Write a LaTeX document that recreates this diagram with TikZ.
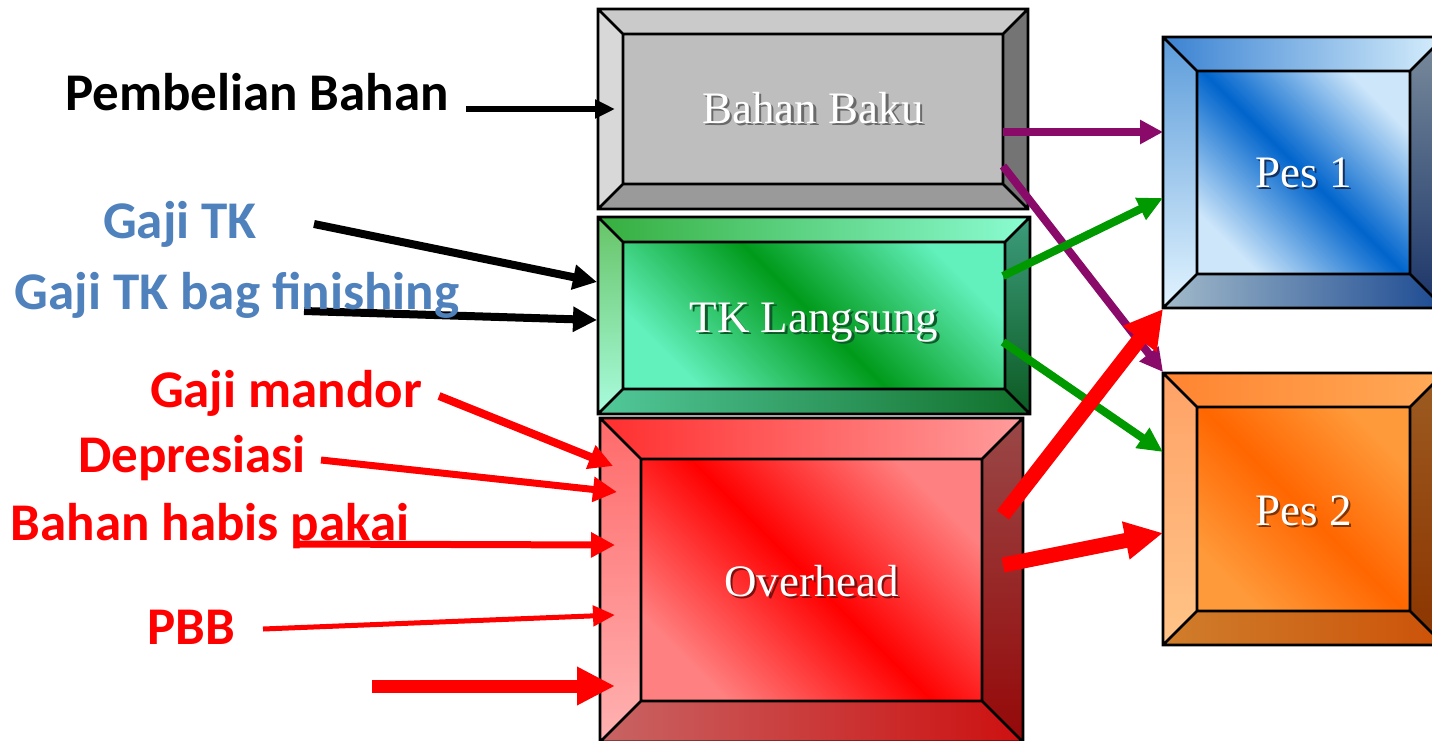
\documentclass[tikz,border=0pt]{standalone}
\usepackage{fontspec}
\setmainfont{Liberation Serif}
\newfontfamily\labelfont{Carlito}
\usetikzlibrary{arrows.meta,calc}

% text and connector colours
\definecolor{lblblue}{HTML}{4F81BD}
\definecolor{flowpurple}{HTML}{8A0A6A}
\definecolor{flowgreen}{HTML}{009900}
\definecolor{flowred}{HTML}{FF0000}
% grey box
\definecolor{bkT}{HTML}{CACACA}\definecolor{bkL}{HTML}{D8D8D8}
\definecolor{bkR}{HTML}{747474}\definecolor{bkB}{HTML}{9A9A9A}
\definecolor{bkF}{HTML}{BEBEBE}\definecolor{bkS}{HTML}{6A6A6A}
% green box
\definecolor{tkFl}{HTML}{62F0BC}\definecolor{tkFd}{HTML}{009A1A}
\definecolor{tkT1}{HTML}{36AE3E}\definecolor{tkT2}{HTML}{8AFCD2}
\definecolor{tkL1}{HTML}{66C466}\definecolor{tkL2}{HTML}{AAFCDE}
\definecolor{tkR1}{HTML}{3C9C7C}\definecolor{tkR2}{HTML}{0C5A22}
\definecolor{tkB1}{HTML}{52C89A}\definecolor{tkB2}{HTML}{10702A}
\definecolor{tkS}{HTML}{0E5A2A}
% red box
\definecolor{ovFl}{HTML}{FF8080}\definecolor{ovFd}{HTML}{FF0000}
\definecolor{ovT1}{HTML}{FF2E2E}\definecolor{ovT2}{HTML}{FF9C9C}
\definecolor{ovL1}{HTML}{FF6A6A}\definecolor{ovL2}{HTML}{FFB2B2}
\definecolor{ovR1}{HTML}{9A4848}\definecolor{ovR2}{HTML}{950808}
\definecolor{ovB1}{HTML}{C86464}\definecolor{ovB2}{HTML}{CD1010}
\definecolor{ovS}{HTML}{7A1010}
% blue box
\definecolor{paFl}{HTML}{CDE6FA}\definecolor{paFd}{HTML}{0064CC}
\definecolor{paT1}{HTML}{3A82D2}\definecolor{paT2}{HTML}{D6EEFC}
\definecolor{paL1}{HTML}{5C9CDA}\definecolor{paL2}{HTML}{E2F4FF}
\definecolor{paR1}{HTML}{7A8C9C}\definecolor{paR2}{HTML}{1A3468}
\definecolor{paB1}{HTML}{A2BACA}\definecolor{paB2}{HTML}{1C4A92}
\definecolor{paS}{HTML}{14305E}
% orange box
\definecolor{pbFl}{HTML}{FF9A3A}\definecolor{pbFd}{HTML}{FF6600}
\definecolor{pbT1}{HTML}{FF8430}\definecolor{pbT2}{HTML}{FFAA58}
\definecolor{pbL1}{HTML}{FFA266}\definecolor{pbL2}{HTML}{FFC488}
\definecolor{pbR1}{HTML}{9C5C22}\definecolor{pbR2}{HTML}{8C3400}
\definecolor{pbB1}{HTML}{CF7E2C}\definecolor{pbB2}{HTML}{CC5208}
\definecolor{pbS}{HTML}{7A3406}

\tikzset{
  boxline/.style={line width=2.6pt, draw=black},
  boxtext/.style={text=white, font=\fontsize{45}{54}\selectfont, inner sep=0pt, anchor=base},
  srclabel/.style={font=\labelfont\bfseries\fontsize{53}{60}\selectfont, inner sep=0pt, anchor=base},
  flow/.style={line cap=butt},
  % bevel faces of each box
  bk top/.style={fill=bkT}, bk left/.style={fill=bkL},
  bk right/.style={fill=bkR}, bk bottom/.style={fill=bkB}, bk face/.style={fill=bkF},
  tk top/.style={left color=tkT1, right color=tkT2},
  tk left/.style={top color=tkL1, bottom color=tkL2},
  tk right/.style={top color=tkR1, bottom color=tkR2},
  tk bottom/.style={left color=tkB1, right color=tkB2},
  tk face/.style={top color=tkFl, bottom color=tkFl, middle color=tkFd, shading angle=-45},
  ov top/.style={left color=ovT1, right color=ovT2},
  ov left/.style={top color=ovL1, bottom color=ovL2},
  ov right/.style={top color=ovR1, bottom color=ovR2},
  ov bottom/.style={left color=ovB1, right color=ovB2},
  ov face/.style={top color=ovFl, bottom color=ovFl, middle color=ovFd, shading angle=-45},
  pa top/.style={left color=paT1, right color=paT2},
  pa left/.style={top color=paL1, bottom color=paL2},
  pa right/.style={top color=paR1, bottom color=paR2},
  pa bottom/.style={left color=paB1, right color=paB2},
  pa face/.style={top color=paFl, bottom color=paFl, middle color=paFd, shading angle=-45},
  pb top/.style={left color=pbT1, right color=pbT2},
  pb left/.style={top color=pbL1, bottom color=pbL2},
  pb right/.style={top color=pbR1, bottom color=pbR2},
  pb bottom/.style={left color=pbB1, right color=pbB2},
  pb face/.style={top color=pbFl, bottom color=pbFl, middle color=pbFd, shading angle=-45},
}

% white label with a drop shadow in colour #2, set in one box
\newcommand\shadowed[2]{%
  \makebox[0pt][l]{\raisebox{-2.5pt}[0pt][0pt]{\hspace{2.5pt}\textcolor{#2}{#1}}}#1}

% #1 style prefix, #2..#5 outer corners, #6 bevel width, #7 label, #8 label baseline, #9 node name
\newcommand\bevelbox[9]{%
  \pgfmathsetmacro\bxa{#2+#6}\pgfmathsetmacro\bya{#3+#6}%
  \pgfmathsetmacro\bxb{#4-#6}\pgfmathsetmacro\byb{#5-#6}%
  \pgfmathsetmacro\bcx{(#2+#4)/2}%
  \path[#1 top]    (#2,#3) -- (#4,#3) -- (\bxb,\bya) -- (\bxa,\bya) -- cycle;
  \path[#1 left]   (#2,#3) -- (\bxa,\bya) -- (\bxa,\byb) -- (#2,#5) -- cycle;
  \path[#1 right]  (#4,#3) -- (#4,#5) -- (\bxb,\byb) -- (\bxb,\bya) -- cycle;
  \path[#1 bottom] (#2,#5) -- (\bxa,\byb) -- (\bxb,\byb) -- (#4,#5) -- cycle;
  \path[#1 face]   (\bxa,\bya) rectangle (\bxb,\byb);
  \draw[boxline] (#2,#3) rectangle (#4,#5) (\bxa,\bya) rectangle (\bxb,\byb)
    (#2,#3) -- (\bxa,\bya) (#4,#3) -- (\bxb,\bya)
    (#2,#5) -- (\bxa,\byb) (#4,#5) -- (\bxb,\byb);
  \node[boxtext] (#9) at (\bcx,#8) {\shadowed{#7}{#1S}};
}

\begin{document}
\begin{tikzpicture}[x=1pt, y=-1pt]
  \useasboundingbox (0,0) rectangle (1432,740);
  \fill[white] (0,0) rectangle (1432,740);

  % cost pools and departments
  \bevelbox{bk}{598}{9}{1028}{209}{25}{Bahan Baku}{123}{baku}
  \bevelbox{tk}{598}{217}{1030}{414}{25}{TK Langsung}{332}{tkl}
  \bevelbox{ov}{600}{418}{1023}{742}{41}{Overhead}{596}{ovh}
  \bevelbox{pa}{1163}{37}{1444}{308}{34}{Pes 1}{187}{pes1}
  \bevelbox{pb}{1163}{373}{1444}{645}{34}{Pes 2}{525}{pes2}

  % connector end points
  \coordinate (a1s) at (466,109);  \coordinate (a1e) at (615,109);
  \coordinate (a2s) at (314,224);  \coordinate (a2e) at (597,282);
  \coordinate (a3s) at (304,311);  \coordinate (a3e) at (597,320);
  \coordinate (r1s) at (439,396);  \coordinate (r1e) at (613,466);
  \coordinate (r2s) at (321,460);  \coordinate (r2e) at (617,492);
  \coordinate (r3s) at (294,544);  \coordinate (r3e) at (615,545);
  \coordinate (r4s) at (263,629);  \coordinate (r4e) at (615,615);
  \coordinate (r5s) at (372,686);  \coordinate (r5e) at (615,686);
  \coordinate (p1s) at (1003,132); \coordinate (p1e) at (1163,132);
  \coordinate (p2s) at (1003,166); \coordinate (p2e) at (1163,372);
  \coordinate (g1s) at (1003,276); \coordinate (g1e) at (1163,198);
  \coordinate (g2s) at (1003,342); \coordinate (g2e) at (1163,452);
  \coordinate (r6s) at (1003,515); \coordinate (r6e) at (1163,309);
  \coordinate (r7s) at (1003,565); \coordinate (r7e) at (1163,533);

  % inputs into the cost pools
  \draw[flow, black, line width=6pt, -{Triangle[length=20pt,width=18pt]}] (a1s) -- (a1e);
  \draw[flow, black, line width=8pt, -{Triangle[length=24pt,width=24pt]}] (a2s) -- (a2e);
  \draw[flow, black, line width=8pt, -{Triangle[length=24pt,width=24pt]}] (a3s) -- (a3e);
  \draw[flow, flowred, line width=8pt, -{Triangle[length=24pt,width=24pt]}] (r1s) -- (r1e);
  \draw[flow, flowred, line width=7pt, -{Triangle[length=24pt,width=24pt]}] (r2s) -- (r2e);
  \draw[flow, flowred, line width=7pt, -{Triangle[length=24pt,width=24pt]}] (r3s) -- (r3e);
  \draw[flow, flowred, line width=5pt, -{Triangle[length=22pt,width=20pt]}] (r4s) -- (r4e);
  \draw[flow, flowred, line width=13pt, -{Triangle[length=38pt,width=36pt]}] (r5s) -- (r5e);

  % allocation to departments
  \draw[flow, flowpurple, line width=8pt, -{Triangle[length=23pt,width=23pt]}] (p1s) -- (p1e);
  \draw[flow, flowpurple, line width=8pt, -{Triangle[length=23pt,width=23pt]}] (p2s) -- (p2e);
  \draw[flow, flowgreen, line width=8pt, -{Triangle[length=25pt,width=23pt]}] (g1s) -- (g1e);
  \draw[flow, flowgreen, line width=8pt, -{Triangle[length=25pt,width=23pt]}] (g2s) -- (g2e);
  \draw[flow, flowred, line width=15pt, -{Triangle[length=38pt,width=40pt]}] (r6s) -- (r6e);
  \draw[flow, flowred, line width=15pt, -{Triangle[length=38pt,width=36pt]}] (r7s) -- (r7e);

  % cost sources
  \node[srclabel, text=black]   (pemb) at (257,110) {Pembelian Bahan};
  \node[srclabel, text=lblblue] (gtk)  at (180,238) {Gaji TK};
  \node[srclabel, text=lblblue] (gtkf) at (237,309) {Gaji TK bag finishing};
  \node[srclabel, text=flowred] (gm)   at (286,407) {Gaji mandor};
  \node[srclabel, text=flowred] (dep)  at (192,472) {Depresiasi};
  \node[srclabel, text=flowred] (bhp)  at (210,540) {Bahan habis pakai};
  \node[srclabel, text=flowred] (pbb)  at (191,644) {PBB};
\end{tikzpicture}
\end{document}
